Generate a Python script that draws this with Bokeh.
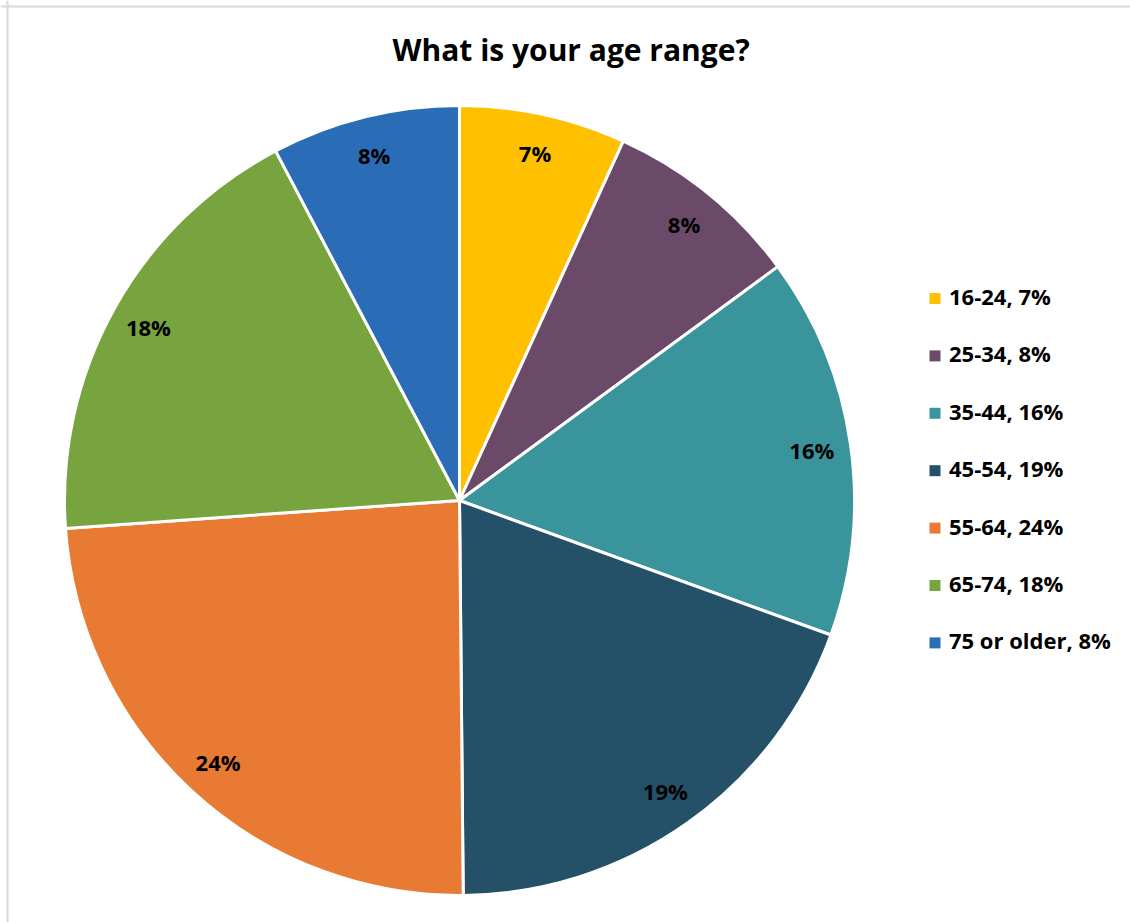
import math
from bokeh.plotting import figure
from bokeh.models import Range1d, ColumnDataSource, Span
from bokeh.core.properties import value
from bokeh.embed import file_html
from bokeh.resources import INLINE

# ---- data ----
categories = ["16-24", "25-34", "35-44", "45-54", "55-64", "65-74", "75 or older"]
shares = [6.8, 8.1, 15.6, 19.3, 24.0, 18.4, 7.7]          # percent of respondents
labels = ["7%", "8%", "16%", "19%", "24%", "18%", "8%"]
colors = ["#FFC000", "#6B4A69", "#3A949B", "#245068", "#E97A34", "#77A43F", "#2A6CB6"]
title_text = "What is your age range?"

# ---- layout constants ----
W, H = 1130, 922
CX, CY = 459, H - 500
R = 395
LABEL_R = 356
FONT = "Open Sans"

p = figure(width=W, height=H, output_backend="svg", toolbar_location=None,
           x_range=Range1d(0, W), y_range=Range1d(0, H),
           min_border=0, outline_line_color=None)
p.axis.visible = False
p.grid.visible = False
p.background_fill_color = "white"
p.border_fill_color = "white"

total = sum(shares)
starts, ends, lx, ly = [], [], [], []
cum = 0.0
for s in shares:
    a0 = math.pi / 2 - 2 * math.pi * cum / total
    cum += s
    a1 = math.pi / 2 - 2 * math.pi * cum / total
    starts.append(a0)
    ends.append(a1)
    mid = (a0 + a1) / 2
    lx.append(CX + LABEL_R * math.cos(mid))
    ly.append(CY + LABEL_R * math.sin(mid))

src = ColumnDataSource(dict(cat=categories, share=shares, start=starts, end=ends,
                            color=colors, lx=lx, ly=ly, label=labels))

p.wedge(x=CX, y=CY, radius=R, start_angle="start", end_angle="end",
        direction="clock", fill_color="color", line_color="white", line_width=3,
        source=src)

p.text(x="lx", y="ly", text="label", source=src, text_align="center",
       text_baseline="middle", text_font=value(FONT), text_font_style="bold",
       text_font_size="22px", text_color="#000000")

# title
p.text(x=[W * 0.505], y=[H - 49], text=[title_text], text_align="center",
       text_baseline="middle", text_font=value(FONT), text_font_style="bold",
       text_font_size="30px", text_color="#000000")

# legend (manual)
leg_x0, leg_y0, leg_dy = 934.5, H - 298, 57.4
leg_src = ColumnDataSource(dict(
    x=[leg_x0] * len(categories),
    y=[leg_y0 - i * leg_dy for i in range(len(categories))],
    ty=[leg_y0 + 2.5 - i * leg_dy for i in range(len(categories))],
    tx=[leg_x0 + 14] * len(categories),
    txt=[f"{c}, {l}" for c, l in zip(categories, labels)],
    color=colors))
p.scatter(x="x", y="y", marker="square", size=11, fill_color="color",
          line_color=None, source=leg_src)
p.text(x="tx", y="ty", text="txt", source=leg_src, text_align="left",
       text_baseline="middle", text_font=value(FONT), text_font_style="bold",
       text_font_size="22px", text_color="#000000")

# chart-area frame (light grey)
p.add_layout(Span(location=7, dimension="height", line_color="#D9D9D9", line_width=2))
p.add_layout(Span(location=H - 6, dimension="width", line_color="#D9D9D9", line_width=2))

open("out.html", "w").write(file_html(p, INLINE))
